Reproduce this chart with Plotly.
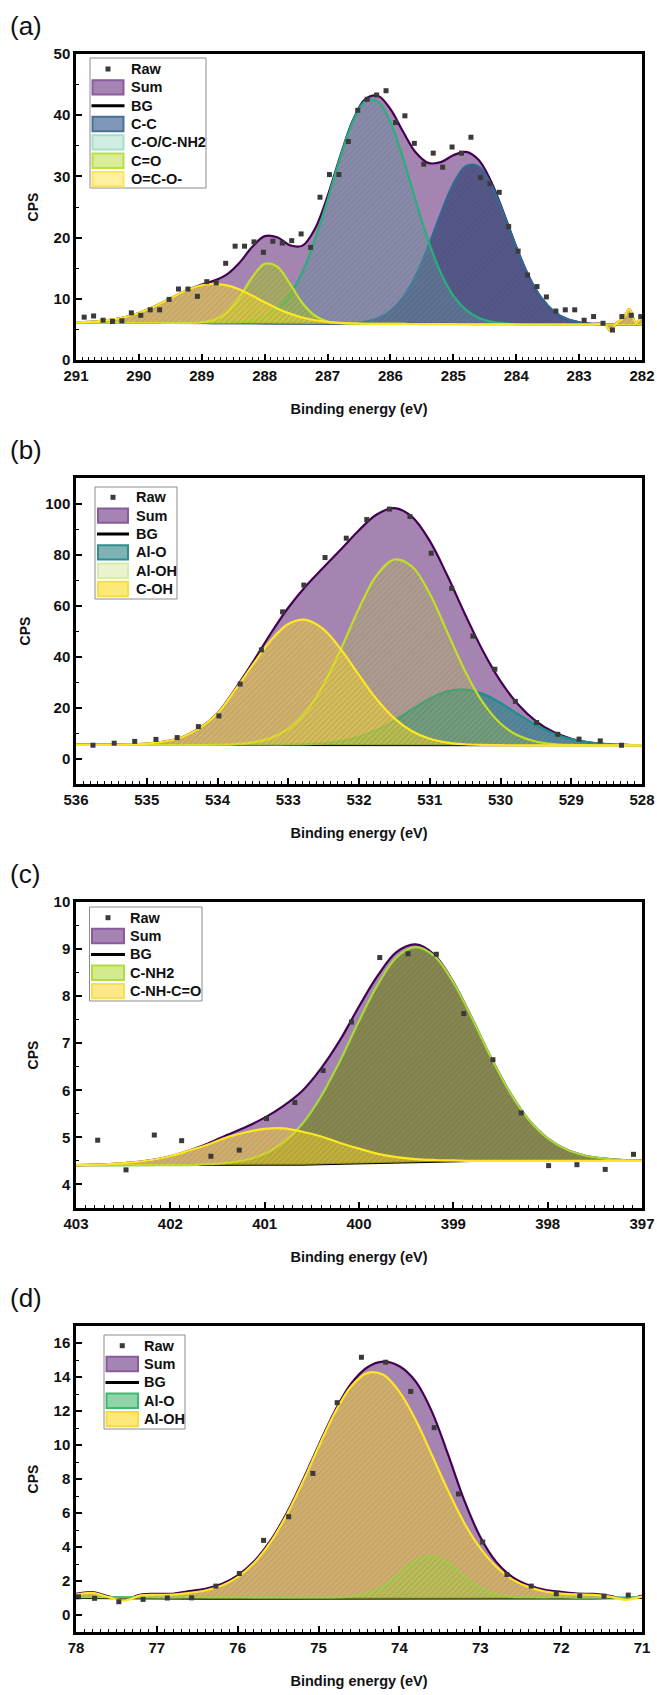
import plotly.graph_objects as go

W, H = 657, 1695
FONT = "Liberation Sans, Arial, Helvetica, sans-serif"

# ---------------- (a) C 1s ----------------
a_x = [291.0, 290.8, 290.6, 290.4, 290.2, 290.0, 289.8, 289.6, 289.4, 289.2,
       289.0, 288.8, 288.6, 288.4, 288.2, 288.0, 287.8, 287.6, 287.4, 287.2,
       287.0, 286.8, 286.6, 286.4, 286.2, 286.0, 285.8, 285.6, 285.4, 285.2,
       285.0, 284.8, 284.6, 284.4, 284.2, 284.0, 283.8, 283.6, 283.4, 283.2,
       283.0, 282.8, 282.6, 282.5, 282.4, 282.3, 282.2, 282.1, 282.0]
a_bg = [6.10, 6.10, 6.10, 6.10, 6.10, 6.09, 6.09, 6.08, 6.07, 6.06,
        6.05, 6.04, 6.03, 6.02, 6.01, 6.00, 5.99, 5.98, 5.97, 5.96,
        5.95, 5.94, 5.93, 5.92, 5.91, 5.90, 5.89, 5.88, 5.87, 5.86,
        5.85, 5.84, 5.83, 5.82, 5.81, 5.80, 5.80, 5.80, 5.80, 5.80,
        5.80, 5.80, 5.80, 5.80, 5.80, 5.80, 5.80, 5.80, 5.80]
a_cc = [0, 0, 0, 0, 0, 0, 0, 0, 0, 0,
        0, 0, 0, 0, 0, 0, 0, 0, 0, 0,
        0, 0, 0.12, 0.36, 0.92, 2.12, 4.34, 7.86, 12.65, 18.07,
        22.92, 25.81, 25.81, 22.92, 18.07, 12.65, 7.86, 4.34, 2.12, 0.92,
        0.36, 0.12, 0.03, 0, 0, 0, 0, 0, 0]
a_co = [0, 0, 0, 0, 0, 0, 0, 0, 0, 0,
        0, 0, 0.06, 0.17, 0.45, 1.08, 2.36, 4.68, 8.4, 13.69,
        20.2, 27.1, 32.97, 36.35, 36.35, 32.97, 27.1, 20.2, 13.69, 8.4,
        4.68, 2.36, 1.08, 0.45, 0.17, 0.06, 0, 0, 0, 0,
        0, 0, 0, 0, 0, 0, 0, 0, 0]
a_ceo = [0, 0, 0, 0, 0, 0, 0, 0, 0, 0,
         0.12, 0.53, 1.75, 4.22, 7.47, 9.71, 9.28, 6.5, 3.35, 1.27,
         0.35, 0.07, 0, 0, 0, 0, 0, 0, 0, 0,
         0, 0, 0, 0, 0, 0, 0, 0, 0, 0,
         0, 0, 0, 0, 0, 0, 0, 0, 0]
a_oco = [0.06, 0.14, 0.28, 0.54, 0.97, 1.60, 2.44, 3.45, 4.52, 5.49,
         6.16, 6.4, 6.16, 5.49, 4.52, 3.45, 2.44, 1.60, 0.97, 0.54,
         0.28, 0.14, 0.06, 0, 0, 0, 0, 0, 0, 0,
         0, 0, 0, 0, 0, 0, 0, 0, 0, 0,
         0, 0, 0, -1.0, 0.3, 1.0, 2.5, 0.3, 1.3]
a_raw_x = [290.87, 290.72, 290.57, 290.42, 290.27, 290.12, 289.97, 289.82, 289.67, 289.52,
           289.37, 289.22, 289.07, 288.92, 288.77, 288.62, 288.47, 288.32, 288.17, 288.02,
           287.87, 287.72, 287.57, 287.42, 287.27, 287.12, 286.97, 286.82, 286.67, 286.52,
           286.37, 286.22, 286.07, 285.92, 285.77, 285.62, 285.47, 285.32, 285.17, 285.02,
           284.87, 284.72, 284.57, 284.42, 284.27, 284.12, 283.97, 283.82, 283.67, 283.52,
           283.37, 283.22, 283.07, 282.92, 282.77, 282.62, 282.47, 282.32, 282.17, 282.02]
a_raw_y = [7.0, 7.2, 6.5, 6.3, 6.4, 7.7, 7.3, 8.2, 8.2, 9.9,
           11.6, 11.6, 10.4, 12.8, 12.6, 15.8, 18.6, 18.6, 19.3, 17.6,
           19.4, 19.1, 19.5, 20.6, 18.4, 26.6, 30.3, 30.3, 35.7, 40.8,
           42.6, 43.3, 44.0, 38.8, 39.9, 35.4, 32.0, 33.8, 31.5, 34.8,
           33.8, 36.4, 29.8, 28.8, 27.4, 21.8, 17.8, 13.9, 12.0, 10.3,
           8.0, 8.2, 8.2, 6.5, 7.1, 6.0, 4.9, 7.1, 7.3, 7.1]

# ---------------- (b) O 1s ----------------
b_x = [536.0, 535.75, 535.5, 535.25, 535.0, 534.75, 534.5, 534.25, 534.0, 533.75,
       533.5, 533.25, 533.0, 532.75, 532.5, 532.25, 532.0, 531.75, 531.5, 531.25,
       531.0, 530.75, 530.5, 530.25, 530.0, 529.75, 529.5, 529.25, 529.0, 528.75,
       528.5, 528.25, 528.0]
b_bg = [5.35, 5.35, 5.35, 5.35, 5.35, 5.35, 5.35, 5.34, 5.34, 5.33,
        5.33, 5.32, 5.31, 5.30, 5.29, 5.28, 5.27, 5.25, 5.24, 5.22,
        5.21, 5.20, 5.19, 5.18, 5.17, 5.16, 5.16, 5.15, 5.15, 5.15,
        5.15, 5.15, 5.15]
b_alo = [0, 0, 0, 0, 0, 0, 0, 0, 0, 0,
         0, 0.03, 0.09, 0.26, 0.68, 1.56, 3.21, 5.88, 9.61, 14.0,
         18.2, 21.11, 21.85, 20.17, 16.62, 12.21, 8.0, 4.68, 2.44, 1.14,
         0.47, 0.17, 0.06]
b_aloh = [0, 0, 0, 0, 0, 0, 0.01, 0.02, 0.1, 0.33,
          1.0, 2.68, 6.29, 13.02, 23.7, 38.0, 53.61, 66.6, 72.8, 70.08,
          59.37, 44.27, 29.07, 16.8, 8.54, 3.82, 1.51, 0.52, 0.16, 0.04,
          0, 0, 0]
b_coh = [0, 0.02, 0.06, 0.2, 0.5, 1.3, 3.0, 6.6, 12.3, 21.58,
         31.45, 40.9, 47.43, 49.09, 45.32, 37.33, 27.43, 17.98, 10.51, 5.48,
         2.55, 1.06, 0.39, 0.13, 0.04, 0, 0, 0, 0, 0,
         0, 0, 0]
b_raw_x = [535.76, 535.46, 535.17, 534.87, 534.57, 534.27, 533.98, 533.68, 533.38, 533.08,
           532.78, 532.48, 532.18, 531.89, 531.57, 531.28, 530.98, 530.69, 530.39, 530.08,
           529.79, 529.49, 529.19, 528.89, 528.59, 528.29]
b_raw_y = [5.2, 6.0, 6.7, 7.5, 8.2, 12.5, 16.7, 29.2, 42.6, 57.5,
           68.0, 78.8, 86.4, 93.7, 97.8, 94.9, 80.5, 66.7, 48.0, 35.0,
           22.4, 14.1, 9.5, 7.6, 6.9, 5.2]

# ---------------- (c) N 1s ----------------
c_x = [403.0, 402.8, 402.6, 402.4, 402.2, 402.0, 401.8, 401.6, 401.4, 401.2,
       401.0, 400.8, 400.6, 400.4, 400.2, 400.0, 399.8, 399.6, 399.4, 399.2,
       399.0, 398.8, 398.6, 398.4, 398.2, 398.0, 397.8, 397.6, 397.4, 397.2,
       397.0]
c_bg = [4.41, 4.41, 4.41, 4.41, 4.41, 4.41, 4.41, 4.41, 4.41, 4.41,
        4.41, 4.42, 4.42, 4.43, 4.44, 4.45, 4.46, 4.47, 4.48, 4.49,
        4.50, 4.50, 4.50, 4.50, 4.50, 4.50, 4.50, 4.50, 4.50, 4.50,
        4.50]
c_cnh2 = [0, 0, 0, 0, 0, 0, 0, 0.02, 0.05, 0.11,
          0.24, 0.48, 0.87, 1.45, 2.19, 3.02, 3.79, 4.36, 4.56, 4.36,
          3.79, 3.02, 2.19, 1.45, 0.87, 0.48, 0.24, 0.11, 0.05, 0.02,
          0.01]
c_cnhco = [0, 0.01, 0.03, 0.06, 0.11, 0.19, 0.31, 0.44, 0.59, 0.70,
           0.77, 0.77, 0.70, 0.59, 0.44, 0.31, 0.19, 0.11, 0.06, 0.03,
           0.01, 0, 0, 0, 0, 0, 0, 0, 0, 0,
           0]
c_raw_x = [402.77, 402.47, 402.17, 401.88, 401.57, 401.27, 400.98, 400.68, 400.38, 400.08,
           399.78, 399.48, 399.18, 398.89, 398.58, 398.28, 397.99, 397.69, 397.39, 397.09]
c_raw_y = [4.94, 4.31, 5.05, 4.93, 4.60, 4.73, 5.40, 5.74, 6.42, 7.45,
           8.82, 8.90, 8.89, 7.63, 6.65, 5.52, 4.40, 4.42, 4.32, 4.64]

# ---------------- (d) Al 2p ----------------
d_x = [78.0, 77.8, 77.6, 77.4, 77.2, 77.0, 76.8, 76.6, 76.4, 76.2,
       76.0, 75.8, 75.6, 75.4, 75.2, 75.0, 74.8, 74.6, 74.4, 74.2,
       74.0, 73.8, 73.6, 73.4, 73.2, 73.0, 72.8, 72.6, 72.4, 72.2,
       72.0, 71.8, 71.6, 71.4, 71.2, 71.0]
d_bg = [1.0, 1.0, 1.0, 1.0, 1.0, 0.99, 0.98, 0.97, 0.96, 0.95,
        0.95, 0.94, 0.94, 0.94, 0.93, 0.93, 0.93, 0.93, 0.93, 0.93,
        0.93, 0.93, 0.93, 0.93, 0.93, 0.93, 0.93, 0.93, 0.94, 0.94,
        0.95, 0.96, 0.97, 0.98, 0.99, 1.0]
d_alo = [0.05, 0.05, 0.05, 0.05, 0.05, 0.05, 0.05, 0.1, 0.1, 0.1,
         0.1, 0.1, 0.1, 0.1, 0.1, 0.1, 0.11, 0.16, 0.33, 0.77,
         1.5, 2.26, 2.55, 2.13, 1.34, 0.66, 0.28, 0.14, 0.11, 0.1,
         0.1, 0.05, 0.05, 0.05, 0.05, 0.05]
d_aloh = [0.2, 0.3, 0.05, -0.15, 0.15, 0.2, 0.22, 0.33, 0.48, 0.77,
          1.28, 2.1, 3.3, 4.9, 6.85, 8.95, 10.95, 12.5, 13.3, 13.2,
          12.2, 10.55, 8.5, 6.4, 4.5, 3.0, 1.9, 1.15, 0.7, 0.44,
          0.31, 0.25, 0.22, 0.1, -0.1, 0.1]
d_raw_x = [77.97, 77.77, 77.47, 77.17, 76.87, 76.57, 76.27, 75.98, 75.68, 75.37,
           75.07, 74.77, 74.47, 74.17, 73.86, 73.57, 73.27, 72.97, 72.67, 72.37,
           72.06, 71.77, 71.47, 71.17]
d_raw_y = [1.07, 0.98, 0.78, 0.92, 1.0, 1.01, 1.70, 2.44, 4.39, 5.78,
           8.33, 12.49, 15.16, 14.87, 13.15, 11.02, 7.12, 4.29, 2.38, 1.70,
           1.25, 1.13, 1.11, 1.17]

# ---------------- styles ----------------
SUM_FILL = "rgb(165,132,178)"
SUM_LINE = "#440154"
SUM_SW = ("#a584b4", "#8a5a9e")

panels = [
    dict(tag="(a)", x=a_x, bg=a_bg, rx=a_raw_x, ry=a_raw_y,
         xr=[291, 282], yr=[0, 50], ydt=10, ymin=5,
         comps=[("C-C", a_cc, "#2f6b93", "rgba(35,60,110,0.62)", "#7f98b8", "#4a7096"),
                ("C-O/C-NH2", a_co, "#27b07c", "rgba(105,145,160,0.47)", "#d2eee3", "#a6e0cc"),
                ("C=O", a_ceo, "#c3e02a", "rgba(170,205,30,0.5)", "#d9ec9a", "#b8e040"),
                ("O=C-O-", a_oco, "#fde725", "rgba(250,220,40,0.5)", "#fff0a0", "#fbe55a")],
         leg=dict(x0=90, x1=206, y0=4, y1=134, r0=15, sx0=91.5, sx1=124.5, tx=129)),
    dict(tag="(b)", x=b_x, bg=b_bg, rx=b_raw_x, ry=b_raw_y,
         xr=[536, 528], yr=[-10, 110], ydt=20, ymin=10,
         comps=[("Al-O", b_alo, "#1f8f8a", "rgba(20,135,135,0.55)", "#7fb3b3", "#2f8f8f"),
                ("Al-OH", b_aloh, "#c2df23", "rgba(200,225,40,0.25)", "#eaf3cc", "#d6ebb0"),
                ("C-OH", b_coh, "#fde725", "rgba(250,220,40,0.5)", "#fde97a", "#f7de3a")],
         leg=dict(x0=95, x1=177, y0=9, y1=121, r0=19.3, sx0=97, sx1=129, tx=134)),
    dict(tag="(c)", x=c_x, bg=c_bg, rx=c_raw_x, ry=c_raw_y,
         xr=[403, 397], yr=[3.5, 10], ydt=1, ymin=0.5,
         comps=[("C-NH2", c_cnh2, "#a8d93a", "rgba(115,135,20,0.62)", "#d3ea8f", "#b0dc40"),
                ("C-NH-C=O", c_cnhco, "#fde725", "rgba(250,215,40,0.5)", "#fde98a", "#f7df50")],
         leg=dict(x0=89.5, x1=202, y0=5, y1=99, r0=15.7, sx0=91, sx1=125, tx=128)),
    dict(tag="(d)", x=d_x, bg=d_bg, rx=d_raw_x, ry=d_raw_y,
         xr=[78, 71], yr=[-1, 17], ydt=2, ymin=1,
         comps=[("Al-O", d_alo, "#4cc26c", "rgba(80,190,100,0.5)", "#8fd4a8", "#40b870"),
                ("Al-OH", d_aloh, "#fde725", "rgba(250,215,40,0.5)", "#fde87a", "#f5dc3a")],
         leg=dict(x0=104, x1=185, y0=9, y1=103, r0=19.7, sx0=105.5, sx1=139, tx=142)),
]

PL, PR, TOP0, PERIOD, PH = 76, 642, 54, 424, 306
ROW = 18.35


def px(v):
    return v / W


def py(v):
    return 1 - v / H


fig = go.Figure()
shapes = []
annos = []
layout_axes = {}

for i, p in enumerate(panels):
    n = "" if i == 0 else str(i + 1)
    xa, ya = "x" + n, "y" + n
    top = TOP0 + PERIOD * i
    bot = top + PH
    xs, bg = p["x"], p["bg"]

    total = [bg[k] + sum(c[1][k] for c in p["comps"]) for k in range(len(xs))]

    def base_trace():
        return go.Scatter(x=xs, y=bg, mode="lines", line=dict(width=0, color="rgba(0,0,0,0)"),
                          hoverinfo="skip", showlegend=False, xaxis=xa, yaxis=ya)

    fig.add_trace(base_trace())
    fig.add_trace(go.Scatter(x=xs, y=total, mode="lines", fill="tonexty", fillcolor=SUM_FILL,
                             line=dict(color=SUM_LINE, width=2.2, shape="spline", smoothing=1),
                             name="Sum", showlegend=False, xaxis=xa, yaxis=ya))
    fig.add_trace(go.Scatter(x=xs, y=bg, mode="lines", line=dict(color="black", width=2),
                             name="BG", showlegend=False, xaxis=xa, yaxis=ya))
    for (lab, net, lc, fc, swf, swb) in p["comps"]:
        fig.add_trace(base_trace())
        fig.add_trace(go.Scatter(
            x=xs, y=[bg[k] + net[k] for k in range(len(xs))], mode="lines", fill="tonexty",
            fillcolor=fc,
            fillpattern=dict(shape="/", bgcolor=fc, fgcolor="rgba(30,30,40,0.35)", size=4, solidity=0.18),
            line=dict(color=lc, width=2.2, shape="spline", smoothing=1),
            name=lab, showlegend=False, xaxis=xa, yaxis=ya))
    fig.add_trace(go.Scatter(x=p["rx"], y=p["ry"], mode="markers",
                             marker=dict(symbol="square", size=5, color="#3a3a3a"),
                             name="Raw", showlegend=False, xaxis=xa, yaxis=ya))

    tickfont = dict(family=FONT, size=15, color="#111111", weight="bold")
    layout_axes["xaxis" + n] = dict(
        domain=[px(PL), px(PR)], anchor=ya, range=p["xr"], autorange=False,
        tickmode="linear", tick0=0, dtick=1, ticks="inside", ticklen=6, tickwidth=1.5, tickcolor="black",
        minor=dict(ticks="inside", ticklen=3, tickwidth=1, dtick=0.1, tick0=0, tickcolor="black"),
        showline=True, linewidth=2.5, linecolor="black", mirror=True,
        showgrid=False, zeroline=False, automargin=False, tickfont=tickfont,
        title=dict(text="Binding energy (eV)", standoff=22,
                   font=dict(family=FONT, size=14.5, color="#111111", weight="bold")))
    layout_axes["yaxis" + n] = dict(
        domain=[py(bot), py(top)], anchor=xa, range=p["yr"], autorange=False,
        tickmode="linear", tick0=0, dtick=p["ydt"], ticks="inside", ticklen=6, tickwidth=1.5,
        tickcolor="black",
        minor=dict(ticks="inside", ticklen=3, tickwidth=1, dtick=p["ymin"], tick0=0, tickcolor="black"),
        showline=True, linewidth=2.5, linecolor="black", mirror=True,
        showgrid=False, zeroline=False, automargin=False, tickfont=tickfont,
        title=dict(text="CPS", standoff=12,
                   font=dict(family=FONT, size=14, color="#111111", weight="bold")))

    # panel tag
    annos.append(dict(text=p["tag"], x=px(8), y=py(top - 28), xref="paper", yref="paper",
                      xanchor="left", yanchor="middle", showarrow=False,
                      font=dict(family=FONT, size=26, color="#111111")))

    # legend (drawn box)
    L = p["leg"]
    shapes.append(dict(type="rect", xref="paper", yref="paper", layer="above",
                       x0=px(L["x0"]), x1=px(L["x1"]), y0=py(top + L["y0"]), y1=py(top + L["y1"]),
                       fillcolor="white", line=dict(color="#8c8c8c", width=1)))
    items = [("raw", "Raw", None, None), ("box", "Sum", SUM_SW[0], SUM_SW[1]), ("line", "BG", None, None)]
    items += [("box", c[0], c[4], c[5]) for c in p["comps"]]
    for r, (kind, lab, f, b) in enumerate(items):
        cy = top + L["r0"] + ROW * r
        sx0, sx1 = L["sx0"], L["sx1"]
        if kind == "raw":
            cx = (sx0 + sx1) / 2
            shapes.append(dict(type="rect", xref="paper", yref="paper", layer="above",
                               x0=px(cx - 2.5), x1=px(cx + 2.5), y0=py(cy - 2.5), y1=py(cy + 2.5),
                               fillcolor="#3a3a3a", line=dict(width=0)))
        elif kind == "line":
            shapes.append(dict(type="line", xref="paper", yref="paper", layer="above",
                               x0=px(sx0), x1=px(sx1), y0=py(cy), y1=py(cy),
                               line=dict(color="black", width=3)))
        else:
            shapes.append(dict(type="rect", xref="paper", yref="paper", layer="above",
                               x0=px(sx0 + 1), x1=px(sx1 - 1), y0=py(cy - 7.2), y1=py(cy + 7.2),
                               fillcolor=f, line=dict(color=b, width=2)))
        annos.append(dict(text=lab, x=px(L["tx"]), y=py(cy), xref="paper", yref="paper",
                          xanchor="left", yanchor="middle", showarrow=False,
                          font=dict(family=FONT, size=14.5, color="#111111", weight="bold")))

fig.update_layout(width=W, height=H, margin=dict(l=0, r=0, t=0, b=0),
                  paper_bgcolor="white", plot_bgcolor="white", showlegend=False,
                  shapes=shapes, annotations=annos, **layout_axes)

fig.write_html("out.html")
